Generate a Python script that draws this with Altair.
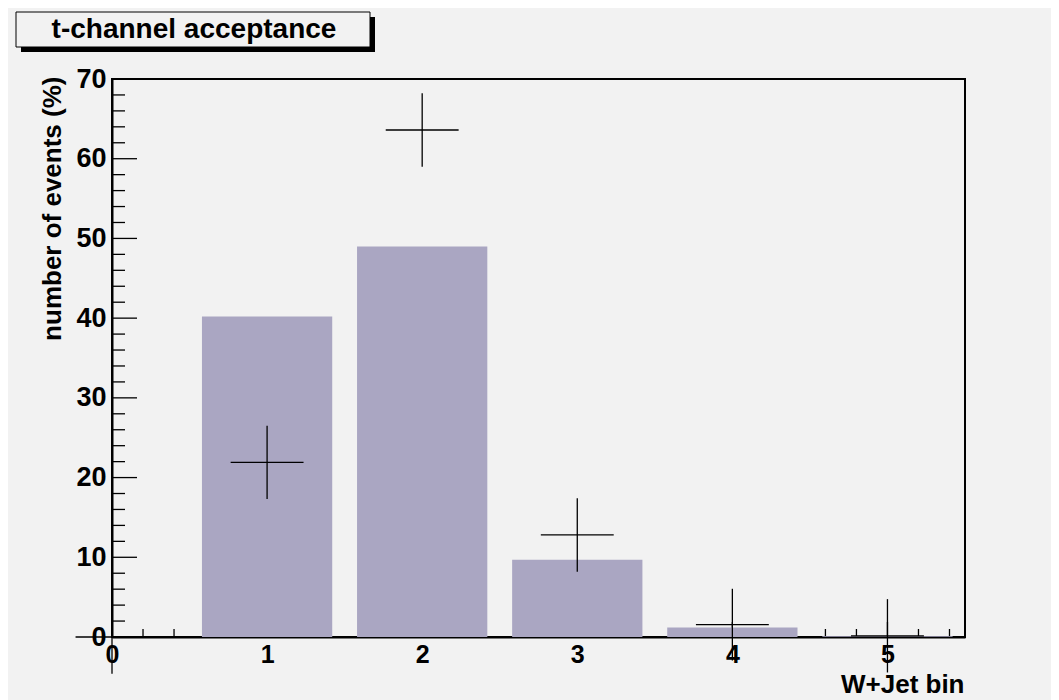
import altair as alt
import pandas as pd

# ---- data ----
TITLE = "t-channel acceptance"
X_TITLE = "W+Jet bin"
Y_TITLE = "number of events (%)"

bar_bins = [1, 2, 3, 4, 5]
bar_values = [40.2, 49.0, 9.7, 1.2, 0.1]

cross_bins = [0, 1, 2, 3, 4, 5]
cross_values = [0.0, 21.9, 63.6, 12.8, 1.55, 0.15]
cross_yerr = [4.6, 4.6, 4.6, 4.6, 4.5, 4.6]
cross_xerr = [0.235, 0.235, 0.235, 0.235, 0.235, 0.235]

x_major_ticks = [0, 1, 2, 3, 4, 5]
x_minor_ticks = [0.2, 0.4, 0.6, 0.8, 1.2, 1.4, 1.6, 1.8, 2.2, 2.4, 2.6, 2.8,
                 3.2, 3.4, 3.6, 3.8, 4.2, 4.4, 4.6, 4.8, 5.2, 5.4]
y_major_ticks = [0, 10, 20, 30, 40, 50, 60, 70]
y_minor_ticks = [2, 4, 6, 8, 12, 14, 16, 18, 22, 24, 26, 28, 32, 34, 36, 38,
                 42, 44, 46, 48, 52, 54, 56, 58, 62, 64, 66, 68]

# ---- style ----
W, H = 853, 558
BAR_HALF = 0.42
BG = "#f2f2f2"
BAR_COLOR = "#aaa6c2"
FONT = "Liberation Sans"

xs = alt.Scale(domain=[0, 5.5], nice=False, zero=False)
ys = alt.Scale(domain=[0, 70], nice=False, zero=False)

bars_df = pd.DataFrame({"bin": bar_bins, "val": bar_values})
cross_df = pd.DataFrame({"bin": cross_bins, "val": cross_values,
                         "ey": cross_yerr, "ex": cross_xerr})

bars = alt.Chart(bars_df).transform_calculate(
    lo=f"datum.bin - {BAR_HALF}", hi=f"datum.bin + {BAR_HALF}"
).mark_rect(color=BAR_COLOR).encode(
    x=alt.X("lo:Q", scale=xs, title=X_TITLE,
            axis=alt.Axis(values=x_major_ticks, format="d",
                          titleX=W - 1, titleY=55)),
    x2="hi:Q",
    y=alt.Y("val:Q", scale=ys, title=Y_TITLE,
            axis=alt.Axis(values=y_major_ticks, titleX=-52, titleY=-3)),
    y2=alt.datum(0),
)

def tick_layer(values, channel, length):
    df = pd.DataFrame({"v": values})
    base = alt.Chart(df).mark_rule(color="black", strokeWidth=1.3)
    if channel == "y":
        return base.encode(y=alt.Y("v:Q", scale=ys),
                           x=alt.value(0), x2=alt.value(length))
    return base.encode(x=alt.X("v:Q", scale=xs),
                       y=alt.value(H), y2=alt.value(H - length))

ticks = [
    tick_layer(y_major_ticks, "y", 25),
    tick_layer(y_minor_ticks, "y", 13),
    tick_layer(x_major_ticks, "x", 15),
    tick_layer(x_minor_ticks, "x", 8),
]

cross_v = alt.Chart(cross_df).transform_calculate(
    lo="datum.val - datum.ey", hi="datum.val + datum.ey"
).mark_rule(color="black", strokeWidth=1.3).encode(
    x=alt.X("bin:Q", scale=xs),
    y=alt.Y("lo:Q", scale=ys),
    y2="hi:Q",
)
cross_h = alt.Chart(cross_df).transform_calculate(
    xl="datum.bin - datum.ex", xh="datum.bin + datum.ex"
).mark_rule(color="black", strokeWidth=1.3).encode(
    x=alt.X("xl:Q", scale=xs),
    x2="xh:Q",
    y=alt.Y("val:Q", scale=ys),
)

# title box with shadow
tdf = pd.DataFrame({"t": [TITLE]})
shadow = alt.Chart(tdf).mark_rect(color="black").encode(
    x=alt.value(-91), x2=alt.value(263), y=alt.value(-62), y2=alt.value(-27))
box = alt.Chart(tdf).mark_rect(fill=BG, stroke="black", strokeWidth=1).encode(
    x=alt.value(-96), x2=alt.value(258), y=alt.value(-67), y2=alt.value(-32))
title = alt.Chart(tdf).mark_text(font=FONT, fontWeight="bold", fontSize=28,
                                 align="center", baseline="alphabetic",
                                 color="black").encode(
    x=alt.value(82), y=alt.value(-41), text="t:N")

axis_common = dict(
    ticks=False, grid=False, domainColor="black", domainWidth=2,
    labelFont=FONT, labelFontWeight="bold", labelColor="black",
    labelFlush=False, labelOverlap=False, zindex=1,
    titleFont=FONT, titleFontWeight="bold", titleColor="black",
    titleAnchor="end", titleAlign="right", titleBaseline="alphabetic",
)

chart = alt.layer(*ticks, bars, cross_v, cross_h, shadow, box, title).properties(
    width=W, height=H,
    autosize=alt.AutoSizeParams(type="none"),
    padding={"left": 104, "top": 71, "right": 86, "bottom": 63},
    background=BG,
).configure_view(stroke="black", strokeWidth=2
).configure_axisX(labelFontSize=25, labelPadding=5, titleFontSize=26,
                  **axis_common
).configure_axisY(labelFontSize=27, labelPadding=6, titleFontSize=26,
                  titleAngle=270, **axis_common)

chart.save("out.html", embed_options={"renderer": "svg", "actions": False})
